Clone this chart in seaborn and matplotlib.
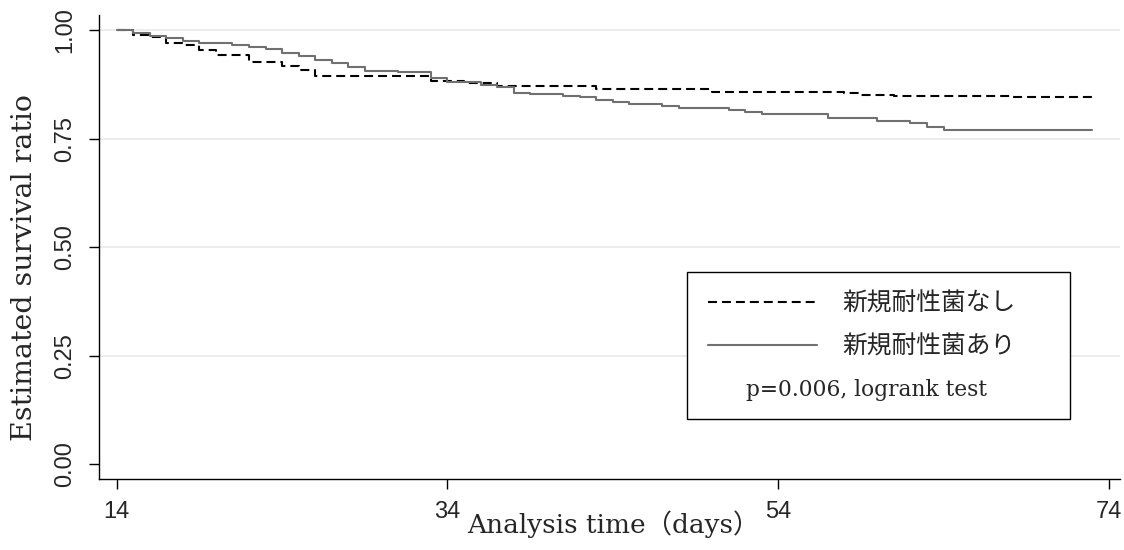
import pandas as pd
import matplotlib
matplotlib.use("Agg")
import matplotlib.pyplot as plt
import matplotlib.patches as patches
from matplotlib.lines import Line2D
import seaborn as sns

# Kaplan-Meier steps (day, survival)
days_none = [14, 15, 16, 17, 18, 19, 20, 22, 24, 25, 26, 33, 35, 37, 43, 50, 58, 59, 61, 68, 73]
surv_none = [1.0, 0.988, 0.984, 0.970, 0.965, 0.955, 0.942, 0.926, 0.917, 0.909, 0.895, 0.882, 0.877,
             0.872, 0.864, 0.858, 0.854, 0.851, 0.848, 0.846, 0.846]

days_ari = [14, 15, 16, 17, 18, 19, 21, 22, 23, 24, 25, 26, 27, 28, 29, 31, 33, 34, 36, 37, 38, 39,
            41, 42, 43, 44, 45, 47, 48, 51, 52, 53, 57, 60, 62, 63, 64, 73]
surv_ari = [1.0, 0.992, 0.987, 0.982, 0.975, 0.969, 0.965, 0.960, 0.956, 0.948, 0.940, 0.930, 0.924,
            0.915, 0.906, 0.903, 0.889, 0.880, 0.873, 0.868, 0.856, 0.853, 0.849, 0.845, 0.839, 0.834,
            0.829, 0.825, 0.821, 0.815, 0.811, 0.807, 0.798, 0.791, 0.785, 0.777, 0.770, 0.770]

label_none = "新規耐性菌なし"
label_ari = "新規耐性菌あり"
p_text = "p=0.006, logrank test"
x_ticks = [14, 34, 54, 74]
y_ticks = [0.0, 0.25, 0.5, 0.75, 1.0]

df_none = pd.DataFrame({"day": days_none, "surv": surv_none})
df_ari = pd.DataFrame({"day": days_ari, "surv": surv_ari})

sns.set_style("white")
plt.rcParams["font.family"] = ["Liberation Sans", "Noto Sans CJK JP"]

fig = plt.figure(figsize=(11.24, 5.5), dpi=100)
ax = fig.add_axes([0.0878, 0.1291, 0.9086, 0.8436])

dash_style = (0, (4.3, 2.4))
sns.lineplot(data=df_none, x="day", y="surv", ax=ax, drawstyle="steps-post",
             color="black", linewidth=1.5, linestyle=dash_style, errorbar=None)
sns.lineplot(data=df_ari, x="day", y="surv", ax=ax, drawstyle="steps-post",
             color="#707070", linewidth=1.5, errorbar=None)

ax.set_xlim(12.91, 74.67)
ax.set_ylim(-0.0338, 1.0345)
ax.set_xticks(x_ticks)
ax.set_yticks(y_ticks)
ax.set_yticklabels([f"{v:.2f}" for v in y_ticks])
ax.set_xlabel("")
ax.set_ylabel("")

ax.yaxis.grid(True, color="#ebebeb", linewidth=1.3)
ax.xaxis.grid(False)
ax.yaxis.get_gridlines()[0].set_visible(False)
ax.set_axisbelow(True)

for side in ["top", "right"]:
    ax.spines[side].set_visible(False)
for side in ["left", "bottom"]:
    ax.spines[side].set_color("black")
    ax.spines[side].set_linewidth(1.0)

ax.tick_params(axis="both", direction="out", length=7, width=1.0, color="black",
               labelsize=17, pad=9, left=True, bottom=True)
for lbl in ax.get_yticklabels():
    lbl.set_rotation(90)
    lbl.set_va("center")

serif = ["DejaVu Serif", "Noto Sans CJK JP"]
fig.text(0.546, 0.030, "Analysis time（days）", ha="center", va="baseline",
         fontsize=19, family=serif)
fig.text(0.022, 0.513, "Estimated survival ratio", ha="center", va="center",
         rotation=90, fontsize=20.5, family=serif)

# legend box
box = patches.Rectangle((0.5763, 0.1293), 0.3747, 0.3175, transform=ax.transAxes,
                        facecolor="white", edgecolor="black", linewidth=1.0, zorder=5)
ax.add_patch(box)
handles = [Line2D([], [], color="black", linewidth=1.5, linestyle=dash_style),
           Line2D([], [], color="#707070", linewidth=1.5)]
leg = ax.legend(handles, [label_none, label_ari], loc="upper left",
                bbox_to_anchor=(0.5966, 0.406), frameon=False, borderpad=0,
                borderaxespad=0, handlelength=4.4, handletextpad=1.05,
                labelspacing=0.68, prop={"family": ["Noto Sans CJK JP"], "size": 17.8})
leg.set_zorder(6)
ax.text(0.7517, 0.191, p_text, transform=ax.transAxes, ha="center", va="center",
        fontsize=15.7, family=["DejaVu Serif"], zorder=6)

fig.savefig("out.png", dpi=100)
